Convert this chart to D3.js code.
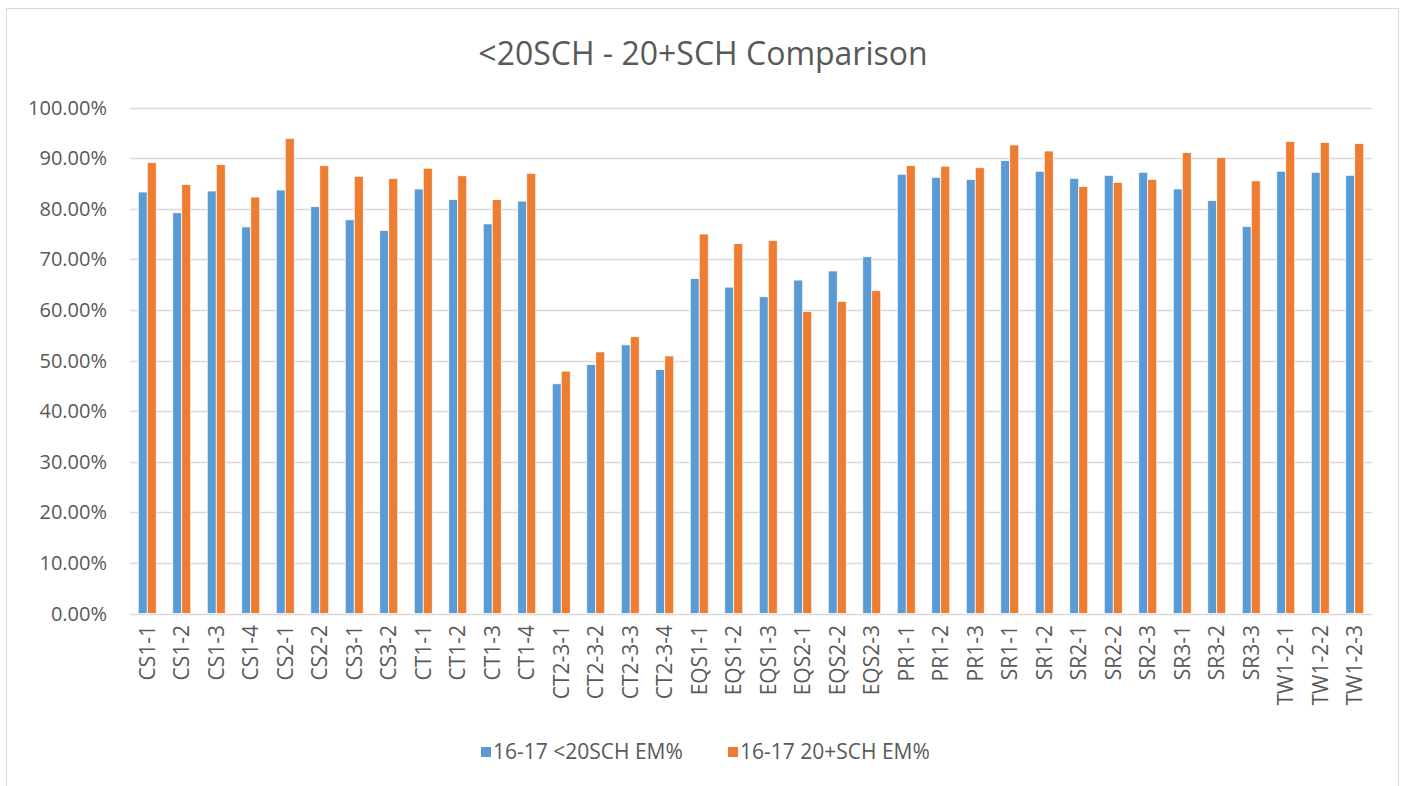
<!DOCTYPE html>
<html>
<head>
<meta charset="utf-8">
<script src="https://cdn.jsdelivr.net/npm/d3@7"></script>
<style>
  body { margin: 0; background: #fff; }
  text { font-family: "Open Sans", "Liberation Sans", sans-serif; fill: #595959; }
</style>
</head>
<body>
<div id="chart"></div>
<script>
// data
var categories = ["CS1-1","CS1-2","CS1-3","CS1-4","CS2-1","CS2-2","CS3-1","CS3-2",
  "CT1-1","CT1-2","CT1-3","CT1-4","CT2-3-1","CT2-3-2","CT2-3-3","CT2-3-4",
  "EQS1-1","EQS1-2","EQS1-3","EQS2-1","EQS2-2","EQS2-3","PR1-1","PR1-2","PR1-3",
  "SR1-1","SR1-2","SR2-1","SR2-2","SR2-3","SR3-1","SR3-2","SR3-3",
  "TW1-2-1","TW1-2-2","TW1-2-3"];
var seriesNames = ["16-17 <20SCH EM%", "16-17 20+SCH EM%"];
var under20 = [83.3,79.2,83.5,76.4,83.7,80.4,77.8,75.7,
  83.9,81.8,77.0,81.5,45.4,49.2,53.1,48.2,
  66.2,64.5,62.6,65.9,67.7,70.5,86.8,86.2,85.8,
  89.5,87.4,86.0,86.6,87.2,83.9,81.6,76.5,
  87.4,87.2,86.6];
var over20 = [89.1,84.8,88.7,82.3,93.9,88.5,86.4,86.0,
  88.0,86.5,81.8,87.0,47.9,51.7,54.7,50.9,
  75.0,73.1,73.7,59.7,61.7,63.8,88.5,88.4,88.1,
  92.6,91.4,84.4,85.2,85.8,91.1,90.1,85.5,
  93.3,93.1,92.9];
var yTicks = [0,10,20,30,40,50,60,70,80,90,100];
var colors = ["#5B9BD5", "#ED7D31"];

var W = 1403, H = 786;
var plotLeft = 130, plotRight = 1372, plotTop = 107.5, plotBottom = 613.5;

var svg = d3.select("#chart").append("svg")
  .attr("width", W).attr("height", H);

// chart frame
svg.append("rect")
  .attr("x", 6.5).attr("y", 8.5)
  .attr("width", 1392).attr("height", 800)
  .attr("fill", "none").attr("stroke", "#d9d9d9");

var x0 = d3.scaleBand().domain(categories).range([plotLeft, plotRight])
  .paddingInner(0.478).paddingOuter(0.239);
var x1 = d3.scaleBand().domain([0, 1]).range([0, x0.bandwidth()]);
var y = d3.scaleLinear().domain([0, 100]).range([plotBottom, plotTop]);

// gridlines
svg.append("g").selectAll("line")
  .data(yTicks).enter().append("line")
    .attr("x1", plotLeft).attr("x2", plotRight)
    .attr("y1", function(d) { return Math.round(y(d)) + 0.5; })
    .attr("y2", function(d) { return Math.round(y(d)) + 0.5; })
    .attr("stroke", "#d9d9d9").attr("stroke-width", 1.3);

// y labels
svg.append("g").selectAll("text")
  .data(yTicks).enter().append("text")
    .attr("x", 107).attr("y", function(d) { return y(d); })
    .attr("dy", "0.35em")
    .attr("text-anchor", "end")
    .style("font-size", "20px")
    .text(function(d) { return d3.format(".2f")(d) + "%"; });

// bars
var series = [under20, over20];
var groups = svg.append("g").selectAll("g")
  .data(categories).enter().append("g")
    .attr("transform", function(d) { return "translate(" + x0(d) + ",0)"; });

groups.selectAll("rect")
  .data(function(d, i) { return series.map(function(s, k) { return {k: k, v: s[i]}; }); })
  .enter().append("rect")
    .attr("x", function(d) { return x1(d.k); })
    .attr("width", x1.bandwidth())
    .attr("y", function(d) { return y(d.v); })
    .attr("height", function(d) { return y(0) - y(d.v); })
    .attr("fill", function(d) { return colors[d.k]; })
    .attr("stroke", "#fff").attr("stroke-width", 0.75);

// category labels
svg.append("g").selectAll("text")
  .data(categories).enter().append("text")
    .attr("transform", function(d) {
      return "translate(" + (x0(d) + x0.bandwidth() / 2) + ",625) rotate(-90)";
    })
    .attr("dy", "0.35em")
    .attr("text-anchor", "end")
    .style("font-size", "21px")
    .text(function(d) { return d; });

// title
svg.append("text")
  .attr("x", 703).attr("y", 65)
  .attr("text-anchor", "middle")
  .style("font-size", "32px")
  .text("<20SCH - 20+SCH Comparison");

// legend
var legendX = [481, 728];
var legend = svg.append("g").selectAll("g")
  .data(seriesNames).enter().append("g")
    .attr("transform", function(d, i) { return "translate(" + legendX[i] + ",752)"; });
legend.append("rect")
  .attr("x", 0).attr("y", -5).attr("width", 10).attr("height", 10)
  .attr("fill", function(d, i) { return colors[i]; });
legend.append("text")
  .attr("x", 12).attr("dy", "0.35em")
  .style("font-size", "21px")
  .text(function(d) { return d; });
</script>
</body>
</html>
